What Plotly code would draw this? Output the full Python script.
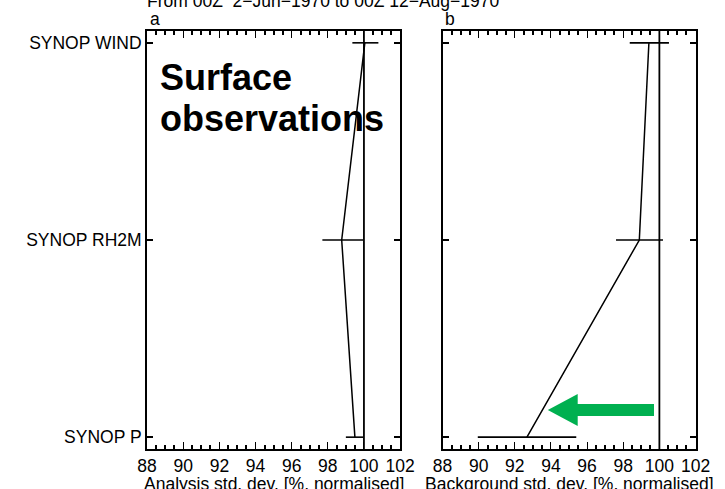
import plotly.graph_objects as go

categories = ["SYNOP WIND", "SYNOP RH2M", "SYNOP P"]
cat_pos = [0, 1, 2]

an_center = [100.05, 98.77, 99.5]
an_low = [99.36, 97.7, 99.0]
an_high = [100.8, 99.95, 99.95]

bg_center = [99.42, 98.89, 92.67]
bg_low = [98.36, 97.6, 89.95]
bg_high = [100.53, 100.2, 95.4]

ref_value = 100
x_first_tick, x_tick_step = 88, 2

W, H = 725, 489
fig = go.Figure()

def add_panel(center, low, high, xa, ya):
    fig.add_trace(go.Scatter(
        x=center, y=cat_pos, mode="lines", xaxis=xa, yaxis=ya,
        line=dict(color="black", width=1.5),
        error_x=dict(type="data", symmetric=False,
                     array=[h - c for h, c in zip(high, center)],
                     arrayminus=[c - l for c, l in zip(center, low)],
                     color="black", thickness=1.6, width=0),
        showlegend=False, hoverinfo="skip"))
    fig.add_trace(go.Scatter(
        x=[ref_value, ref_value], y=[-0.06, 2.06], mode="lines", xaxis=xa, yaxis=ya,
        line=dict(color="black", width=1.8), showlegend=False, hoverinfo="skip"))

add_panel(an_center, an_low, an_high, "x", "y")
add_panel(bg_center, bg_low, bg_high, "x2", "y2")

FONT = "Liberation Sans, Arial, Helvetica"
ydom = [1 - 449 / H, 1 - 31 / H]
xcommon = dict(range=[88, 102], tickmode="linear", tick0=x_first_tick, dtick=x_tick_step,
               ticks="inside", ticklen=7,
               tickwidth=1.3, tickcolor="black", showline=True, linecolor="black",
               linewidth=2, mirror="allticks", showgrid=False, zeroline=False,
               tickfont=dict(family=FONT, size=17.5, color="black"),
               minor=dict(dtick=0.5, ticks="inside", ticklen=4, tickcolor="black",
                          tickwidth=1.5, showgrid=False))
ycommon = dict(range=[2.06, -0.06], tickvals=cat_pos, ticks="inside", ticklen=6,
               tickwidth=1.5, tickcolor="black", showline=True, linecolor="black",
               linewidth=2, mirror="allticks", showgrid=False, zeroline=False)

fig.update_layout(
    width=W, height=H, margin=dict(l=0, r=0, t=0, b=0),
    paper_bgcolor="white", plot_bgcolor="white",
    xaxis=dict(domain=[142 / W, 404 / W], anchor="y", **xcommon),
    xaxis2=dict(domain=[448 / W, 710 / W], anchor="y2", **xcommon),
    yaxis=dict(domain=ydom, anchor="x", ticktext=categories,
               tickfont=dict(family=FONT, size=17.5, color="black"),
               **ycommon),
    yaxis2=dict(domain=ydom, anchor="x2", showticklabels=False, **ycommon),
)

font = dict(family=FONT, color="black")
anns = [
    dict(text="From 00Z  2\u2212Jun\u22121970 to 00Z 12\u2212Aug\u22121970", x=140, y=1,
         size=17.5, xanchor="left"),
    dict(text="a", x=143, y=19, size=17.5, xanchor="left"),
    dict(text="b", x=448, y=19, size=17.5, xanchor="left"),
    dict(text="Analysis std. dev. [%, normalised]", x=273, y=484, size=17.5, xanchor="center"),
    dict(text="Background std. dev. [%, normalised]", x=579, y=484, size=17.5, xanchor="center"),
]
for a in anns:
    fig.add_annotation(text=a["text"], xref="paper", yref="paper",
                       x=a["x"] / W, y=1 - a["y"] / H, xanchor=a["xanchor"],
                       yanchor="middle", showarrow=False,
                       font=dict(size=a["size"], **font))

for txt, yc in [("Surface", 77), ("observations", 119)]:
    fig.add_annotation(text="<b>" + txt + "</b>", xref="paper", yref="paper",
                       x=153 / W, y=1 - yc / H, xanchor="left", yanchor="middle",
                       showarrow=False,
                       font=dict(family=FONT, size=36, color="black"))

# green arrow (decoration)
pts = [(557, 410), (588, 394), (588, 404), (667, 404), (667, 416), (588, 416), (588, 426)]
path = "M " + " L ".join("{:.4f} {:.4f}".format(px / W, 1 - py / H) for px, py in pts) + " Z"
fig.add_shape(type="path", xref="paper", yref="paper", path=path,
              fillcolor="#00b050", line=dict(width=0))

fig.write_html("out.html")
